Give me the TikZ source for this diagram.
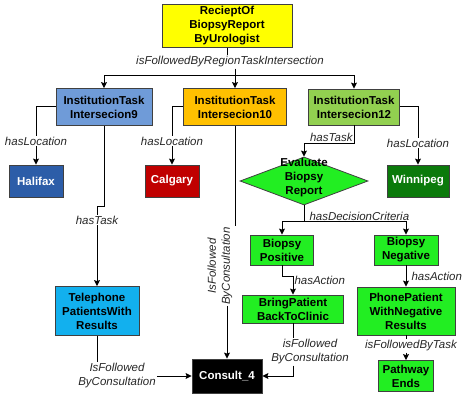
\documentclass[tikz,border=0pt]{standalone}
\usepackage{fontspec}
\setmainfont{Liberation Sans}
\usepackage{xcolor}
\usetikzlibrary{positioning, shapes.geometric, arrows.meta}

\definecolor{reportyellow}{HTML}{FFFF00}
\definecolor{taskblue}{HTML}{6F9BD8}
\definecolor{taskorange}{HTML}{FFC000}
\definecolor{taskgreen}{HTML}{92D050}
\definecolor{halifaxblue}{HTML}{2C5DA8}
\definecolor{calgaryred}{HTML}{C00000}
\definecolor{winnipeggreen}{HTML}{0B7A0B}
\definecolor{phonecyan}{HTML}{12B0EE}
\definecolor{stepgreen}{HTML}{22EE22}

\begin{document}
\begin{tikzpicture}[
    node distance=40pt,
    on grid,
    >={Stealth[length=6pt, width=6pt, inset=1pt]},
    box/.style={draw=black!75, line width=0.8pt, font=\fontsize{11.5}{14}\selectfont\bfseries, align=center, inner sep=2pt},
    lbl/.style={font=\fontsize{11.5}{14}\selectfont\itshape, text=black!85, align=center, inner sep=1pt},
    link/.style={line width=1pt}
]
   \useasboundingbox (0pt,0pt) rectangle (467pt,-396pt);

   % Tasks
   \node[box, fill=reportyellow, minimum width=130pt, minimum height=42pt] (report) at (227pt,-26pt) {RecieptOf\\BiopsyReport\\ByUrologist};
   \node[box, fill=taskorange, minimum width=103pt, minimum height=37pt] (inter10) [below right=81pt and 8pt of report] {InstitutionTask\\Intersecion10};
   \node[box, fill=taskblue, minimum width=96pt, minimum height=37pt] (inter9) [left=131pt of inter10] {InstitutionTask\\Intersecion9};
   \node[box, fill=taskgreen, minimum width=91pt, minimum height=36pt] (inter12) [right=119pt of inter10] {InstitutionTask\\Intersecion12};

   % Locations
   \node[box, fill=halifaxblue, text=white, minimum width=54pt, minimum height=32pt] (halifax) [below left=74pt and 68pt of inter9] {Halifax};
   \node[box, fill=calgaryred, text=white, minimum width=54pt, minimum height=32pt] (calgary) [below left=74pt and 63pt of inter10] {Calgary};
   \node[box, fill=winnipeggreen, text=white, minimum width=62pt, minimum height=32pt] (winnipeg) [below right=74pt and 64pt of inter12] {Winnipeg};

   % Steps
   \node[box, diamond, fill=stepgreen, inner sep=0pt, minimum width=128pt, minimum height=48pt] (evaluate) [below left=74pt and 50pt of inter12] {\smash{\begin{tabular}{@{}c@{}}Evaluate\\Biopsy\\Report\end{tabular}}};
   \node[box, fill=phonecyan, minimum width=84pt, minimum height=49pt] (telephone) [below left=204pt and 7pt of inter9] {Telephone\\PatientsWith\\Results};
   \node[box, fill=stepgreen, minimum width=63pt, minimum height=30pt] (positive) [below left=69pt and 22pt of evaluate] {Biopsy\\Positive};
   \node[box, fill=stepgreen, minimum width=64pt, minimum height=30pt] (negative) [below right=69pt and 102pt of evaluate] {Biopsy\\Negative};
   \node[box, fill=stepgreen, minimum width=101pt, minimum height=28pt] (bring) [below right=59pt and 11pt of positive] {BringPatient\\BackToClinic};
   \node[box, fill=stepgreen, minimum width=98pt, minimum height=48pt] (phone) [below=61pt of negative] {PhonePatient\\WithNegative\\Results};
   \node[box, fill=black, text=white, minimum width=70pt, minimum height=34pt] (consult) [below left=269pt and 8pt of inter10] {Consult\_4};
   \node[box, fill=stepgreen, minimum width=55pt, minimum height=31pt] (pathway) [below=65pt of phone] {Pathway\\Ends};

   % Region intersections
   \node[lbl] (followlbl) [below right=36pt and 3pt of report] {isFollowedByRegionTaskIntersection};
   \coordinate[below=50pt of report] (bus);
   \draw[link] (report.south) -- (report.south |- followlbl.north);
   \draw[link,->] (followlbl.south -| inter10) -- (inter10.north);
   \draw[link,->] (bus -| inter10) -| (inter9.north);
   \draw[link,->] (bus -| inter10) -| (inter12.north);

   % hasLocation
   \node[lbl] (loc9) [above=40pt of halifax] {hasLocation};
   \node[lbl] (loc10) [above=40pt of calgary] {hasLocation};
   \node[lbl] (loc12) [above=38pt of winnipeg] {hasLocation};
   \draw[link] (inter9.west) -| (loc9.north);
   \draw[link,->] (loc9.south) -- (halifax.north);
   \draw[link] (inter10.west) -| (loc10.north);
   \draw[link,->] (loc10.south) -- (calgary.north);
   \draw[link] (inter12.east) -| (loc12.north);
   \draw[link,->] (loc12.south) -- (winnipeg.north);

   % hasTask
   \node[lbl] (task9) [above=91pt of telephone] {hasTask};
   \draw[link] (inter9.south) -- ++(0,-81pt) -| (task9.north);
   \draw[link,->] (task9.south) -- (telephone.north);
   \draw[link,->] (inter12.south) -- ++(0,-18pt) node[lbl, above left] (task12) {hasTask} -| (evaluate.north);

   % Consultation
   \node[lbl, rotate=90] (cons10) [above left=110pt and 7pt of consult] {IsFollowed\\ByConsultation};
   \draw[link] (inter10.south) -- (inter10.south |- cons10.east);
   \draw[link,->] (cons10.west -| consult) -- (consult.north);
   \node[lbl] (constel) [left=110pt of consult] {IsFollowed\\ByConsultation};
   \draw[link] (telephone.south) -- (telephone.south |- constel.north);
   \draw[link,->] (constel.east) -- (consult.west);
   \node[lbl] (consbring) [below right=43pt and 17pt of bring] {isFollowed\\ByConsultation};
   \draw[link] (bring.south) -- (bring.south |- consbring.north);
   \draw[link,->] (consbring.south -| bring) |- (consult.east);

   % Decision
   \coordinate[below=41pt of evaluate] (decide);
   \draw[link] (evaluate.south) -- (decide) node[lbl, above right, xshift=4pt] (critlbl) {hasDecisionCriteria};
   \draw[link,->] (decide) -| (positive.north);
   \draw[link,->] (decide) -| (negative.north);
   \draw[link,->] (positive.south) -- ++(0,-11pt) -| node[lbl, right, pos=0.6] (act1) {hasAction} (bring.north);
   \draw[link,->] (negative.south) -- node[lbl, right=4pt] (act2) {hasAction} (phone.north);
   \node[lbl] (tasklbl) [below right=35pt and 5pt of phone] {isFollowedByTask};
   \draw[link] (phone.south) -- (phone.south |- tasklbl.north);
   \draw[link,->] (tasklbl.south -| phone) -- (pathway.north);
\end{tikzpicture}
\end{document}
